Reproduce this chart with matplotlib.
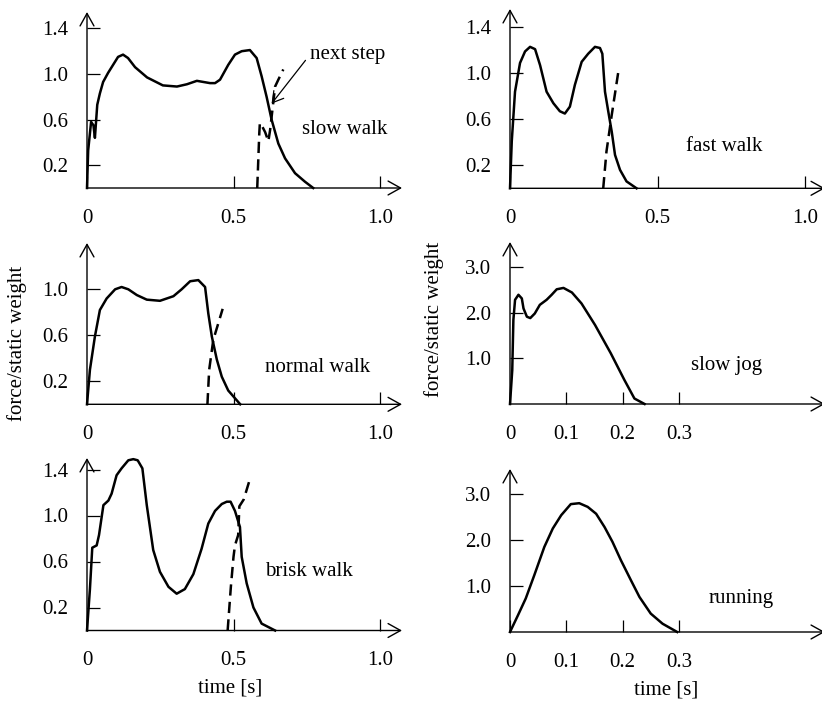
import matplotlib
matplotlib.use("Agg")
import matplotlib.pyplot as plt

plt.rcParams["font.family"] = ["Liberation Serif", "DejaVu Serif"]

# ---- data (time [s], force/static weight) ----
sw_t = [0, 0.004, 0.014, 0.022, 0.027, 0.035, 0.044, 0.055, 0.072, 0.089, 0.106, 0.123,
        0.140, 0.164, 0.205, 0.259, 0.307, 0.341, 0.375, 0.420, 0.437, 0.454, 0.482, 0.505,
        0.528, 0.556, 0.579, 0.596, 0.613, 0.630, 0.653, 0.676, 0.710, 0.744, 0.772]
sw_f = [0, 0.33, 0.58, 0.55, 0.44, 0.73, 0.83, 0.93, 1.01, 1.08, 1.15, 1.17,
        1.14, 1.06, 0.97, 0.90, 0.89, 0.91, 0.94, 0.92, 0.92, 0.95, 1.08, 1.17,
        1.20, 1.21, 1.14, 0.98, 0.80, 0.60, 0.39, 0.26, 0.13, 0.055, 0]
sw_next_t = [0.581, 0.588, 0.590, 0.596, 0.608, 0.619, 0.625, 0.642, 0.653, 0.670]
sw_next_f = [0, 0.48, 0.57, 0.55, 0.49, 0.41, 0.51, 0.89, 0.95, 1.04]

fw_t = [0, 0.006, 0.017, 0.034, 0.051, 0.068, 0.085, 0.102, 0.124, 0.147, 0.169, 0.186,
        0.203, 0.220, 0.243, 0.265, 0.288, 0.305, 0.313, 0.322, 0.333, 0.345, 0.356, 0.373,
        0.395, 0.429]
fw_f = [0, 0.41, 0.84, 1.09, 1.19, 1.23, 1.21, 1.07, 0.84, 0.74, 0.67, 0.65,
        0.71, 0.90, 1.10, 1.17, 1.23, 1.22, 1.17, 0.84, 0.67, 0.49, 0.29, 0.16,
        0.06, 0]
fw_next_t = [0.316, 0.327, 0.345, 0.367]
fw_next_f = [0, 0.32, 0.64, 1.01]

nw_t = [0, 0.010, 0.027, 0.044, 0.067, 0.096, 0.118, 0.141, 0.170, 0.204, 0.249, 0.295,
        0.323, 0.352, 0.380, 0.403, 0.414, 0.426, 0.443, 0.460, 0.482, 0.523]
nw_f = [0, 0.30, 0.59, 0.82, 0.92, 1.00, 1.02, 1.00, 0.95, 0.91, 0.90, 0.94,
        1.00, 1.07, 1.08, 1.02, 0.79, 0.59, 0.39, 0.24, 0.12, 0]
nw_next_t = [0.411, 0.417, 0.431, 0.463]
nw_next_f = [0, 0.30, 0.56, 0.83]

sj_t = [0, 0.004, 0.006, 0.009, 0.015, 0.021, 0.024, 0.030, 0.036, 0.044, 0.053, 0.065,
        0.074, 0.083, 0.095, 0.110, 0.127, 0.151, 0.179, 0.203, 0.221, 0.239]
sj_f = [0, 0.74, 1.84, 2.28, 2.39, 2.31, 2.09, 1.91, 1.88, 1.98, 2.17, 2.28,
        2.39, 2.51, 2.54, 2.44, 2.20, 1.73, 1.11, 0.53, 0.12, 0]

bw_t = [0, 0.010, 0.018, 0.033, 0.041, 0.056, 0.073, 0.084, 0.101, 0.118, 0.141, 0.158,
        0.173, 0.189, 0.204, 0.226, 0.249, 0.278, 0.306, 0.334, 0.363, 0.391, 0.414, 0.437,
        0.460, 0.477, 0.490, 0.505, 0.522, 0.528, 0.545, 0.568, 0.596, 0.642]
bw_f = [0, 0.36, 0.72, 0.74, 0.83, 1.09, 1.13, 1.19, 1.35, 1.41, 1.48, 1.49,
        1.48, 1.41, 1.09, 0.70, 0.51, 0.38, 0.32, 0.36, 0.49, 0.71, 0.93, 1.04,
        1.10, 1.12, 1.12, 1.04, 0.90, 0.64, 0.41, 0.20, 0.06, 0]
bw_next_t = [0.480, 0.491, 0.500, 0.505, 0.516, 0.520, 0.535, 0.554]
bw_next_f = [0, 0.38, 0.64, 0.74, 0.83, 1.08, 1.14, 1.30]

rn_t = [0, 0.014, 0.028, 0.043, 0.061, 0.076, 0.091, 0.108, 0.123, 0.138, 0.153, 0.168,
        0.182, 0.197, 0.215, 0.230, 0.250, 0.271, 0.297]
rn_f = [0, 0.36, 0.73, 1.23, 1.85, 2.25, 2.54, 2.78, 2.80, 2.72, 2.57, 2.28,
        1.96, 1.56, 1.12, 0.76, 0.40, 0.18, 0]

walk_xticks = [0, 0.5, 1.0]
walk_xlabels = ["0", "0.5", "1.0"]
run_xticks = [0, 0.1, 0.2, 0.3]
run_xlabels = ["0", "0.1", "0.2", "0.3"]
walk_yticks = [0.2, 0.6, 1.0, 1.4]
walk_ylabels = ["0.2", "0.6", "1.0", "1.4"]
run_yticks = [1.0, 2.0, 3.0]
run_ylabels = ["1.0", "2.0", "3.0"]

W, H = 822, 704
FS = 15
fig = plt.figure(figsize=(W / 100, H / 100), dpi=100)


def make_ax(ox, oy, tx, ty, sx, sy):
    # ox,oy = origin pixel, tx,ty = arrow tips, sx,sy = pixels per unit
    ax = fig.add_axes([ox / W, 1 - oy / H, (tx - ox) / W, (oy - ty) / H])
    ax.set_xlim(0, (tx - ox) / sx)
    ax.set_ylim(0, (oy - ty) / sy)
    ax.patch.set_visible(False)
    for s in ax.spines.values():
        s.set_visible(False)
    ap = dict(arrowstyle="->,head_length=0.9,head_width=0.5", lw=1.0,
              color="black", shrinkA=0, shrinkB=0, mutation_scale=10)
    ax.annotate("", xy=(1, 0), xytext=(0, 0), xycoords="axes fraction",
                arrowprops=ap, annotation_clip=False)
    ax.annotate("", xy=(0, 1), xytext=(0, 0), xycoords="axes fraction",
                arrowprops=ap, annotation_clip=False)
    ax.tick_params(direction="in", length=9, width=0.9, labelsize=FS)
    ax.tick_params(axis="x", pad=15)
    ax.tick_params(axis="y", pad=13.5)
    return ax


def curve(ax, t, f, dashed=False):
    if dashed:
        ax.plot(t, f, color="black", lw=1.8, dashes=(4.5, 2.5), clip_on=False)
    else:
        ax.plot(t, f, color="black", lw=1.8, clip_on=False, solid_joinstyle="round")


# slow walk
ax1 = make_ax(87, 188, 402, 12, 293, 114)
curve(ax1, sw_t, sw_f)
curve(ax1, sw_next_t, sw_next_f, dashed=True)
ax1.set_xticks(walk_xticks, walk_xlabels)
ax1.set_yticks(walk_yticks, walk_ylabels)
ax1.text(0.734, 0.51, "slow walk", fontsize=FS, ha="left", va="center")
ax1.annotate("next step", xy=(0.630, 0.74), xytext=(0.761, 1.17), fontsize=FS,
             ha="left", va="center",
             arrowprops=dict(arrowstyle="->,head_length=0.5,head_width=0.3", lw=0.9,
                             color="black", relpos=(0, 0.5), shrinkA=2, shrinkB=0))

# fast walk
ax2 = make_ax(510, 188.3, 825, 9, 295, 115)
curve(ax2, fw_t, fw_f)
curve(ax2, fw_next_t, fw_next_f, dashed=True)
ax2.set_xticks(walk_xticks, walk_xlabels)
ax2.set_yticks(walk_yticks, walk_ylabels)
ax2.text(0.597, 0.36, "fast walk", fontsize=FS, ha="left", va="center")

# normal walk
ax3 = make_ax(87, 404.3, 402, 243, 293, 115)
curve(ax3, nw_t, nw_f)
curve(ax3, nw_next_t, nw_next_f, dashed=True)
ax3.set_xticks(walk_xticks, walk_xlabels)
ax3.set_yticks(walk_yticks[:3], walk_ylabels[:3])
ax3.text(0.607, 0.32, "normal walk", fontsize=FS, ha="left", va="center")

# slow jog
ax4 = make_ax(510, 404, 825, 242, 563, 45.7)
curve(ax4, sj_t, sj_f)
ax4.set_xticks(run_xticks, run_xlabels)
ax4.set_yticks(run_yticks, run_ylabels)
ax4.text(0.321, 0.85, "slow jog", fontsize=FS, ha="left", va="center")

# brisk walk
ax5 = make_ax(87, 630.5, 402, 458, 293, 115)
curve(ax5, bw_t, bw_f)
curve(ax5, bw_next_t, bw_next_f, dashed=True)
ax5.set_xticks(walk_xticks, walk_xlabels)
ax5.set_yticks(walk_yticks, walk_ylabels)
ax5.text(0.607, 0.51, "brisk walk", fontsize=FS, ha="left", va="center")

# running
ax6 = make_ax(510, 632, 825, 469, 563, 46)
curve(ax6, rn_t, rn_f)
ax6.set_xticks(run_xticks, run_xlabels)
ax6.set_yticks(run_yticks, run_ylabels)
ax6.text(0.352, 0.73, "running", fontsize=FS, ha="left", va="center")

# axis titles
fig.text(17 / W, 1 - 343 / H, "force/static weight", fontsize=FS, rotation=90,
         ha="center", va="center")
fig.text(434 / W, 1 - 319 / H, "force/static weight", fontsize=FS, rotation=90,
         ha="center", va="center")
fig.text(230 / W, 1 - 688 / H, "time [s]", fontsize=FS, ha="center", va="center")
fig.text(666 / W, 1 - 690 / H, "time [s]", fontsize=FS, ha="center", va="center")

fig.savefig("out.png", dpi=100)
